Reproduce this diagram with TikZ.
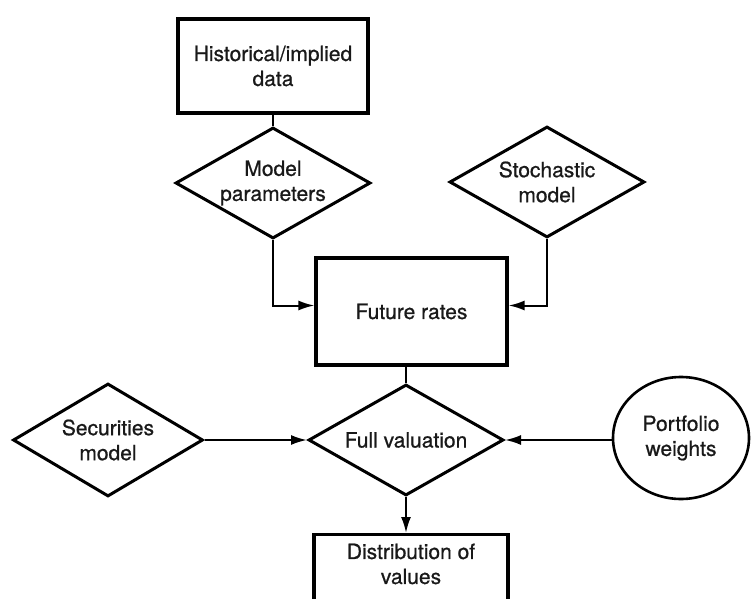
\documentclass[tikz,border=0pt]{standalone}
\usepackage{fontspec}
\setmainfont[FakeBold=0.8]{TeX Gyre Heros}
\usetikzlibrary{shapes.geometric,arrows.meta}
\begin{document}
\begin{tikzpicture}[x=1pt,y=-1pt,
  lbl/.style={font=\fontsize{21}{25}\selectfont, align=center, text=black!90},
  box/.style={lbl, draw=black, line width=3.2pt, rectangle, inner sep=0pt},
  dia/.style={lbl, draw=black, line width=3pt, diamond, aspect=1.76, inner sep=0pt,
              minimum width=195pt, minimum height=111pt},
  oval/.style={lbl, draw=black, line width=2.6pt, ellipse, inner sep=0pt,
               minimum width=136pt, minimum height=122pt},
  link/.style={line width=2pt},
  arr/.style={link, -{Latex[length=16pt,width=10pt]}},
]
\useasboundingbox (0,0) rectangle (752,599);
\clip (0,0) rectangle (752,599);

% inputs and models
\node[box, minimum width=190pt, minimum height=94pt] (hist) at (273,66) {Historical/implied\\data};
\node[dia] (mp) at (273,183) {Model\\parameters};
\node[dia] (sm) at (547,182) {Stochastic\\model};

% simulated rates
\node[box, minimum width=191pt, minimum height=107pt] (fr) at (411.5,311.5) {Future rates};

% valuation row
\node[dia] (fv) at (406,440) {Full valuation};
\node[dia, minimum width=190pt, minimum height=113pt] (sec) at (108,440) {Securities\\model};
\node[oval] (pw) at (681,438) {Portfolio\\weights};

% output (runs past the lower edge)
\node[box, anchor=north, inner xsep=0pt, inner ysep=9pt] (dist) at (411,533)
  {\parbox[c][100pt][t]{194pt}{\centering Distribution of\\values}};

% connectors
\draw[link] (hist.south) -- (mp.north);
\draw[arr] (mp.south) |- ([yshift=6pt]fr.west);
\draw[arr] (sm.south) |- ([yshift=6pt]fr.east);
\draw[link] (fr.south -| fv.north) -- (fv.north);
\draw[arr] (sec.east) -- (fv.west);
\draw[arr] (pw.west |- fv.east) -- (fv.east);
\draw[arr] (fv.south) -- (fv.south |- dist.north);
\end{tikzpicture}
\end{document}
